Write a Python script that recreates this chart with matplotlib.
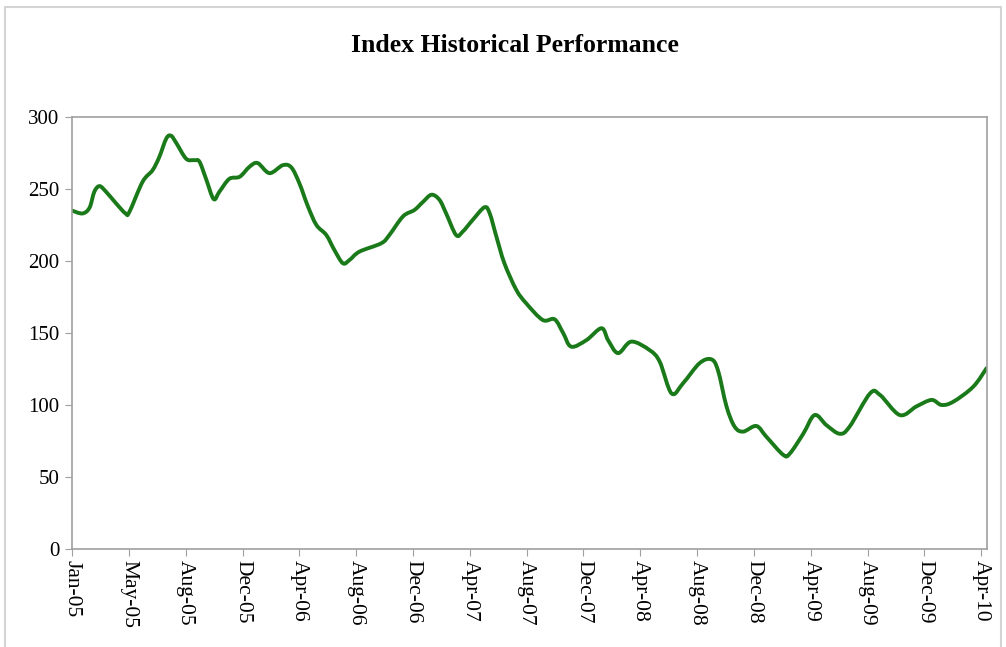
import matplotlib
matplotlib.use("Agg")
import matplotlib.pyplot as plt
import matplotlib.dates as mdates
from matplotlib.patches import Rectangle, PathPatch
from matplotlib.path import Path
import numpy as np
import pandas as pd

# index level (date, value)
dates = [
    "2005-01-01", "2005-01-23", "2005-02-07", "2005-02-17", "2005-02-28",
    "2005-03-14", "2005-04-04", "2005-04-24", "2005-05-02", "2005-05-30",
    "2005-06-20", "2005-07-04", "2005-07-19", "2005-07-29", "2005-08-09",
    "2005-08-30", "2005-09-16", "2005-09-27", "2005-10-11", "2005-10-27",
    "2005-11-08", "2005-11-29", "2005-12-21", "2006-01-11", "2006-01-28",
    "2006-02-22", "2006-03-22", "2006-04-09", "2006-04-26", "2006-05-14",
    "2006-06-01", "2006-06-22", "2006-07-09", "2006-07-27", "2006-08-10",
    "2006-08-31", "2006-10-16", "2006-11-02", "2006-12-01", "2006-12-25",
    "2007-01-12", "2007-01-30", "2007-02-16", "2007-03-02", "2007-03-23",
    "2007-04-06", "2007-04-27", "2007-05-22", "2007-06-02", "2007-06-16",
    "2007-07-03", "2007-07-28", "2007-08-18", "2007-09-22", "2007-10-17",
    "2007-11-04", "2007-11-21", "2007-12-23", "2008-01-24", "2008-02-07",
    "2008-02-28", "2008-03-27", "2008-05-05", "2008-05-26", "2008-06-20",
    "2008-07-14", "2008-08-18", "2008-09-12", "2008-09-26", "2008-10-14",
    "2008-10-31", "2008-11-18", "2008-12-16", "2009-01-06", "2009-02-11",
    "2009-02-25", "2009-03-25", "2009-04-18", "2009-05-13", "2009-06-10",
    "2009-07-01", "2009-08-13", "2009-09-03", "2009-10-15", "2009-11-19",
    "2009-12-21", "2010-01-11", "2010-02-05", "2010-03-19", "2010-04-16",
]
values = [
    235, 233, 237, 248, 252,
    248, 240, 233, 234, 255,
    263, 272, 285, 287, 282,
    271, 270, 269, 257, 243,
    248, 257, 258.5, 265.5, 268,
    261, 266.5, 265, 254, 238,
    225, 218, 207.6, 198.4, 200.7,
    206.5, 212.3, 218, 231, 235.4,
    241, 246, 242.4, 233, 218,
    220.4, 228.5, 237.3, 233, 217,
    198.4, 180, 170.6, 159, 159.5,
    150, 140.5, 145, 153.3, 145,
    136, 144, 138, 130, 108,
    115, 129, 131.7, 124, 99,
    85, 81.5, 85.4, 78, 65.3,
    66.4, 80, 93, 86, 80,
    85, 108, 107, 93, 99,
    103.5, 100, 102.3, 112.7, 125.5,
]

title = "Index Historical Performance"
y_ticks = [0, 50, 100, 150, 200, 250, 300]

series = pd.Series(values, index=pd.to_datetime(dates))
start = pd.Timestamp("2005-01-01")
x_ticks = [start + pd.Timedelta(days=120 * k) for k in range(17)]


def smooth_path(x, y):
    # smoothed line like Excel's: bezier segments through every data point
    pts = np.column_stack([x, y])
    ext = np.vstack([pts[0], pts, pts[-1]])
    verts = [tuple(pts[0])]
    codes = [Path.MOVETO]
    for i in range(len(pts) - 1):
        p0, p1, p2, p3 = ext[i], ext[i + 1], ext[i + 2], ext[i + 3]
        c1 = p1 + (p2 - p0) / 6.0
        c2 = p2 - (p3 - p1) / 6.0
        verts += [tuple(c1), tuple(c2), tuple(p2)]
        codes += [Path.CURVE4] * 3
    return Path(verts, codes)


plt.rcParams['font.family'] = ['Liberation Serif', 'DejaVu Serif']

fig = plt.figure(figsize=(10.06, 6.47), dpi=100)
ax = fig.add_axes([0.0716, 0.1515, 0.9095, 0.6677])

# chart area frame
fig.patches.append(Rectangle((5 / 1006, -0.01), 996 / 1006, 1 - 7 / 647 + 0.01,
                             transform=fig.transFigure, fill=False,
                             edgecolor="#d4d4d4", linewidth=1.5))

xnum = mdates.date2num(series.index.to_pydatetime())
ax.add_patch(PathPatch(smooth_path(xnum, series.values), facecolor="none",
                       edgecolor="#1a7a1a", linewidth=2.8,
                       joinstyle="round", capstyle="round"))

ax.set_ylim(0, 300)
ax.set_yticks(y_ticks)
ax.xaxis_date()
ax.set_xlim(start, pd.Timestamp("2010-04-17"))
ax.set_xticks(x_ticks)
ax.xaxis.set_major_formatter(mdates.DateFormatter("%b-%y"))

for side in ["left", "bottom", "top", "right"]:
    ax.spines[side].set_color("#a0a0a0")
    ax.spines[side].set_linewidth(1.2)

ax.tick_params(axis="y", direction="out", length=5, color="#a0a0a0",
               labelsize=15, pad=4)
ax.tick_params(axis="x", direction="out", length=5, color="#a0a0a0",
               labelsize=15.5, pad=3)
for lbl in ax.get_xticklabels():
    lbl.set_rotation(270)
    lbl.set_va("top")
    lbl.set_ha("center")

fig.text(0.5116, 1 - 45 / 647, title, ha="center", va="center",
         fontsize=18.5, fontweight="bold")

fig.savefig("out.png", dpi=100)
